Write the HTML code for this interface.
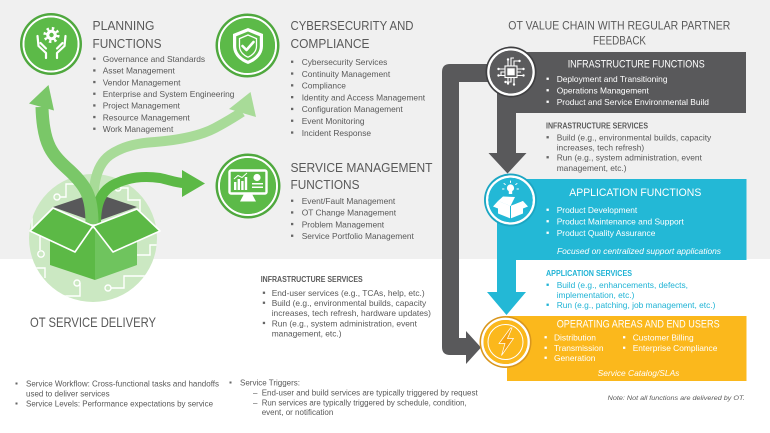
<!DOCTYPE html>
<html>
<head>
<meta charset="utf-8">
<style>
html,body{margin:0;padding:0;background:#fff;}
svg{display:block;}
text{font-family:"Liberation Sans",Arial,sans-serif;}
.h{font-size:13px;fill:#595959;}
.b{font-size:8.4px;fill:#595959;}
.n{font-size:8px;fill:#595959;}
.w{fill:#fff;}
</style>
</head>
<body>
<svg width="770" height="433" viewBox="0 0 770 433" xmlns="http://www.w3.org/2000/svg">
<defs>
<clipPath id="cc"><circle cx="93" cy="238" r="64"/></clipPath>
</defs>
<rect width="770" height="433" fill="#fff"/>
<rect width="770" height="259" fill="#f0f0f0"/>

<!-- ===== OT Service Delivery box illustration ===== -->
<circle cx="93" cy="238" r="64" fill="#cbe8c2"/>
<g clip-path="url(#cc)" stroke="#fff" stroke-width="1.4" fill="none">
  <path d="M60,197 L66,197 L66,184 L80,184"/><circle cx="57" cy="197" r="3"/>
  <path d="M121,188 L128,188 L128,200 L140,200 L140,215"/><circle cx="118" cy="188" r="3"/>
  <path d="M40,250 L40,232 L32,232 L32,215"/><circle cx="41" cy="254" r="3.2"/>
  <path d="M80,283 L80,296 L62,296"/><circle cx="77" cy="283" r="3"/>
  <path d="M111,288 L124,288 L124,276 L150,276"/><circle cx="108" cy="288" r="3"/>
  <path d="M135,255 L150,255 L150,245 L160,245"/>
  <path d="M45,278 L45,268 L30,268"/>
  <path d="M140,298 L140,290 L160,290"/>
</g>
<!-- faces -->
<polygon points="50,237 95,228 95,280 50,265" fill="#5cb946"/>
<polygon points="95,228 137,237 137,265 95,280" fill="#6fc45e"/>
<!-- opening -->
<polygon points="53,207 95,193 137,207 95,222" fill="#58585a"/>

<!-- green arrows -->
<path d="M93,224 C93,195 92,168 110,155 C125,145 140,143 155,142 C180,140 200,136 215,128 C228,121 236,116 242,112" stroke="#a8db98" stroke-width="10" fill="none"/>
<polygon points="229,109 250.5,92 256,117" fill="#a8db98"/>
<path d="M96,224 C96,205 100,190 117,183 C130,177 145,176 160,178 C170,180 176,183 184,183" stroke="#5cb946" stroke-width="10" fill="none"/>
<polygon points="182,170 205,183.5 182,197" fill="#5cb946"/>
<path d="M92,224 C92,196 86,186 70,171 C52,155 43,145 42,107" stroke="#7ac768" stroke-width="13" fill="none"/>
<polygon points="29,103.5 48.5,85 54,110.5" fill="#7ac768"/>

<!-- flaps -->
<polygon points="30,231 53,208 93,226 75,252" fill="#5cb946" stroke="#fff" stroke-width="1.6" stroke-linejoin="round"/>
<polygon points="93,226 137,209 160,231 113,252" fill="#5cb946" stroke="#fff" stroke-width="1.6" stroke-linejoin="round"/>

<text x="30" y="327" font-size="14" fill="#595959" textLength="126" lengthAdjust="spacingAndGlyphs">OT SERVICE DELIVERY</text>

<!-- ===== Planning ===== -->
<circle cx="51" cy="44" r="31" fill="#4fa83e"/>
<circle cx="51" cy="44" r="27.5" fill="none" stroke="#fff" stroke-width="2"/>
<circle cx="51" cy="44" r="26.4" fill="#5cba48"/>
<g>
  <circle cx="51.5" cy="35" r="6.6" fill="none" stroke="#fff" stroke-width="3" stroke-dasharray="2.4 2.8"/>
  <circle cx="51.5" cy="35" r="5.3" fill="#fff"/>
  <circle cx="51.5" cy="35" r="2.2" fill="#5cba48"/>
  <path d="M37.5,36 L38.5,46 L46,53 L46,58 M40.5,43 L46,48.5" stroke="#fff" stroke-width="2.2" fill="none" stroke-linecap="round" stroke-linejoin="round"/>
  <path d="M65.5,36 L64.5,46 L57,53 L57,58 M62.5,43 L57,48.5" stroke="#fff" stroke-width="2.2" fill="none" stroke-linecap="round" stroke-linejoin="round"/>
</g>
<text x="92.5" y="30" class="h" textLength="62" lengthAdjust="spacingAndGlyphs">PLANNING</text>
<text x="92.5" y="48" class="h" textLength="69" lengthAdjust="spacingAndGlyphs">FUNCTIONS</text>
<g fill="#666">
<rect x="93.2" y="57.6" width="2.3" height="2.3"/><rect x="93.2" y="69.3" width="2.3" height="2.3"/><rect x="93.2" y="80.9" width="2.3" height="2.3"/><rect x="93.2" y="92.6" width="2.3" height="2.3"/><rect x="93.2" y="104.3" width="2.3" height="2.3"/><rect x="93.2" y="115.9" width="2.3" height="2.3"/><rect x="93.2" y="127.6" width="2.3" height="2.3"/>
</g>
<text class="b" x="102.7" y="62">Governance and Standards</text>
<text class="b" x="102.7" y="73.7">Asset Management</text>
<text class="b" x="102.7" y="85.3">Vendor Management</text>
<text class="b" x="102.7" y="97">Enterprise and System Engineering</text>
<text class="b" x="102.7" y="108.7">Project Management</text>
<text class="b" x="102.7" y="120.3">Resource Management</text>
<text class="b" x="102.7" y="132">Work Management</text>

<!-- ===== Cybersecurity ===== -->
<circle cx="247.5" cy="45.5" r="32" fill="#4fa83e"/>
<circle cx="247.5" cy="45.5" r="28.5" fill="none" stroke="#fff" stroke-width="2"/>
<circle cx="247.5" cy="45.5" r="27.4" fill="#5cba48"/>
<path d="M248,28 L263,34 L263,46 C263,55 256,61 248,64 C240,61 233,55 233,46 L233,34 Z" fill="#fff"/>
<path d="M248,31.5 L259.8,36.3 L259.8,46 C259.8,53 254.5,58 248,60.6 C241.5,58 236.2,53 236.2,46 L236.2,36.3 Z" fill="#5cba48"/>
<path d="M248,35 L256.5,38.6 L256.5,46 C256.5,51.5 252.5,55.3 248,57.2 C243.5,55.3 239.5,51.5 239.5,46 L239.5,38.6 Z" fill="none" stroke="#fff" stroke-width="1.3"/>
<path d="M242.5,46 L246.5,50 L253.5,42" stroke="#fff" stroke-width="2.6" fill="none" stroke-linecap="round" stroke-linejoin="round"/>
<text x="290.5" y="30" class="h" textLength="123" lengthAdjust="spacingAndGlyphs">CYBERSECURITY AND</text>
<text x="290.5" y="48" class="h" textLength="79" lengthAdjust="spacingAndGlyphs">COMPLIANCE</text>
<g fill="#666">
<rect x="291" y="60.6" width="2.3" height="2.3"/><rect x="291" y="72.4" width="2.3" height="2.3"/><rect x="291" y="84.2" width="2.3" height="2.3"/><rect x="291" y="96" width="2.3" height="2.3"/><rect x="291" y="107.8" width="2.3" height="2.3"/><rect x="291" y="119.6" width="2.3" height="2.3"/><rect x="291" y="131.4" width="2.3" height="2.3"/>
</g>
<text class="b" x="301.7" y="65">Cybersecurity Services</text>
<text class="b" x="301.7" y="76.8">Continuity Management</text>
<text class="b" x="301.7" y="88.6">Compliance</text>
<text class="b" x="301.7" y="100.4">Identity and Access Management</text>
<text class="b" x="301.7" y="112.2">Configuration Management</text>
<text class="b" x="301.7" y="124">Event Monitoring</text>
<text class="b" x="301.7" y="135.8">Incident Response</text>

<!-- ===== Service Management ===== -->
<circle cx="248" cy="186" r="32.5" fill="#4fa83e"/>
<circle cx="248" cy="186" r="29" fill="none" stroke="#fff" stroke-width="2"/>
<circle cx="248" cy="186" r="27.9" fill="#5cba48"/>
<rect x="229.5" y="170.5" width="37" height="23" rx="1.5" fill="none" stroke="#fff" stroke-width="2.4"/>
<polygon points="244,194 252,194 256,201.5 240,201.5" fill="#fff"/>
<g fill="#fff">
<rect x="234" y="182" width="2.4" height="8"/><rect x="237.6" y="179" width="2.4" height="11"/><rect x="241.2" y="181" width="2.4" height="9"/><rect x="244.8" y="177" width="2.4" height="13"/>
<circle cx="257" cy="177.5" r="3.6"/>
<rect x="252" y="183" width="11" height="1.5"/><rect x="252" y="186.5" width="11" height="1.5"/>
</g>
<path d="M234,179 L238,175.5 L242,177.5 L247,173" stroke="#fff" stroke-width="1" fill="none"/>
<text x="290.5" y="172" class="h" textLength="142" lengthAdjust="spacingAndGlyphs">SERVICE MANAGEMENT</text>
<text x="290.5" y="189" class="h" textLength="69" lengthAdjust="spacingAndGlyphs">FUNCTIONS</text>
<g fill="#666">
<rect x="291" y="199.6" width="2.3" height="2.3"/><rect x="291" y="211.3" width="2.3" height="2.3"/><rect x="291" y="222.9" width="2.3" height="2.3"/><rect x="291" y="234.6" width="2.3" height="2.3"/>
</g>
<text class="b" x="301.7" y="204">Event/Fault Management</text>
<text class="b" x="301.7" y="215.7">OT Change Management</text>
<text class="b" x="301.7" y="227.3">Problem Management</text>
<text class="b" x="301.7" y="239">Service Portfolio Management</text>

<!-- ===== Middle infrastructure services ===== -->
<text x="260.7" y="282" font-size="8" font-weight="bold" fill="#595959" textLength="102" lengthAdjust="spacingAndGlyphs">INFRASTRUCTURE SERVICES</text>
<g fill="#666">
<rect x="262.8" y="291.6" width="2.3" height="2.3"/><rect x="262.8" y="301.6" width="2.3" height="2.3"/><rect x="262.8" y="321.8" width="2.3" height="2.3"/>
</g>
<text class="b" x="271.7" y="296">End-user services (e.g., TCAs, help, etc.)</text>
<text class="b" x="271.7" y="306">Build (e.g., environmental builds, capacity</text>
<text class="b" x="271.7" y="316">increases, tech refresh, hardware updates)</text>
<text class="b" x="271.7" y="326.3">Run (e.g., system administration, event</text>
<text class="b" x="271.7" y="336.7">management, etc.)</text>

<!-- ===== Right value chain ===== -->
<text x="508.3" y="29.3" font-size="12" fill="#595959" textLength="222" lengthAdjust="spacingAndGlyphs">OT VALUE CHAIN WITH REGULAR PARTNER</text>
<text x="593" y="44.3" font-size="12" fill="#595959" textLength="53" lengthAdjust="spacingAndGlyphs">FEEDBACK</text>

<!-- gray L feedback connector -->
<path d="M500,64 L450,64 Q442,64 442,72 L442,347 Q442,355 450,355 L466,355 L466,364 L481,347.5 L466,331 L466,338 L459,338 L459,82 L500,82 Z" fill="#59595b"/>

<!-- infrastructure box -->
<path d="M497,52 L746,52 L746,113 L516,113 L516,153 L526.5,153 L507.5,173.5 L488.5,153 L497,153 Z" fill="#59595b"/>
<!-- application box -->
<path d="M497,179 L746.5,179 L746.5,260 L516,260 L516,292 L526,292 L506.5,315 L487,292 L497,292 Z" fill="#23b8d6"/>
<!-- operating box -->
<rect x="507" y="316" width="239.5" height="65" fill="#fbb81c"/>

<!-- infra circle -->
<circle cx="511" cy="72" r="25.5" fill="#3f3f41"/>
<circle cx="511" cy="72" r="22.6" fill="none" stroke="#fff" stroke-width="2.4"/>
<circle cx="511" cy="72" r="21.4" fill="#5b5b5d"/>
<g stroke="#fff" stroke-width="1.1" fill="none">
  <rect x="505" y="66" width="12" height="11.5"/>
  <path d="M508,66 L508,60 M511,66 L511,58 L514,58 M514,66 L514,61 L519,61"/>
  <path d="M505,69 L499,69 M505,72 L501,72 L501,75 M505,75.5 L499,75.5"/>
  <path d="M517,69 L523,69 M517,72 L521,72 M517,75.5 L523,75.5"/>
  <path d="M508,77.5 L508,83 M511,77.5 L511,82 L506,82 M514,77.5 L514,84"/>
</g>
<rect x="507.3" y="68.3" width="7.4" height="7" fill="#fff"/>
<g fill="#fff">
<circle cx="508" cy="59.5" r="1.2"/><circle cx="519.5" cy="61" r="1.2"/><circle cx="498.5" cy="69" r="1.2"/><circle cx="498.5" cy="75.5" r="1.2"/><circle cx="523.5" cy="69" r="1.2"/><circle cx="523.5" cy="75.5" r="1.2"/><circle cx="508" cy="83.5" r="1.2"/><circle cx="514" cy="84.5" r="1.2"/><circle cx="505.5" cy="82" r="1.2"/>
</g>

<text x="567.7" y="67.7" font-size="10.7" class="w" textLength="137" lengthAdjust="spacingAndGlyphs">INFRASTRUCTURE FUNCTIONS</text>
<g fill="#fff">
<rect x="546.5" y="77.6" width="2.3" height="2.3"/><rect x="546.5" y="89.1" width="2.3" height="2.3"/><rect x="546.5" y="100.6" width="2.3" height="2.3"/>
</g>
<text class="b w" x="556.7" y="82">Deployment and Transitioning</text>
<text class="b w" x="556.7" y="93.5">Operations Management</text>
<text class="b w" x="556.7" y="105">Product and Service Environmental Build</text>

<text x="546" y="128.3" font-size="8" font-weight="bold" fill="#595959" textLength="102" lengthAdjust="spacingAndGlyphs">INFRASTRUCTURE SERVICES</text>
<g fill="#666">
<rect x="546.5" y="136.1" width="2.3" height="2.3"/><rect x="546.5" y="156.1" width="2.3" height="2.3"/>
</g>
<text class="b" x="556.7" y="140.5">Build (e.g., environmental builds, capacity</text>
<text class="b" x="556.7" y="150.5">increases, tech refresh)</text>
<text class="b" x="556.7" y="160.5">Run (e.g., system administration, event</text>
<text class="b" x="556.7" y="171">management, etc.)</text>

<!-- app circle -->
<circle cx="510.5" cy="200" r="26.5" fill="#1ba6c3"/>
<circle cx="510.5" cy="200" r="23.4" fill="none" stroke="#fff" stroke-width="2.4"/>
<circle cx="510.5" cy="200" r="22.2" fill="#23b8d6"/>
<g fill="#fff">
  <polygon points="498,201 510.5,206 523,201 523,213.5 510.5,218.5 498,213.5"/>
  <polygon points="498,201 493,206.5 505.5,211.5 510.5,206"/>
  <polygon points="523,201 528,206.5 515.5,211.5 510.5,206"/>
  <polygon points="498,201 503,196.5 515,197 510.5,206"/>
  <circle cx="510.5" cy="188" r="3.6"/>
  <rect x="508.8" y="191" width="3.4" height="3"/>
</g>
<path d="M510.5,206 L510.5,218.5" stroke="#23b8d6" stroke-width="1"/>
<g stroke="#fff" stroke-width="1" stroke-linecap="round">
  <path d="M510.5,181 L510.5,182.5 M504,183.5 L505.3,184.5 M517,183.5 L515.7,184.5 M502.5,189 L504,189 M518.5,189 L517,189"/>
</g>

<text x="569.3" y="196" font-size="11.2" class="w" textLength="132" lengthAdjust="spacingAndGlyphs">APPLICATION FUNCTIONS</text>
<g fill="#fff">
<rect x="546.5" y="208.6" width="2.3" height="2.3"/><rect x="546.5" y="220.1" width="2.3" height="2.3"/><rect x="546.5" y="231.6" width="2.3" height="2.3"/>
</g>
<text class="b w" x="556.7" y="213">Product Development</text>
<text class="b w" x="556.7" y="224.5">Product Maintenance and Support</text>
<text class="b w" x="556.7" y="236">Product Quality Assurance</text>
<text class="b w" x="557" y="254" font-style="italic" textLength="164" lengthAdjust="spacingAndGlyphs">Focused on centralized support applications</text>

<text x="546" y="276" font-size="8" font-weight="bold" fill="#1fb3d5" textLength="86" lengthAdjust="spacingAndGlyphs">APPLICATION SERVICES</text>
<g fill="#1fb3d5">
<rect x="546.5" y="283.6" width="2.3" height="2.3"/><rect x="546.5" y="303.6" width="2.3" height="2.3"/>
</g>
<text x="556.7" y="288" font-size="8.4" fill="#1fb3d5">Build (e.g., enhancements, defects,</text>
<text x="556.7" y="298" font-size="8.4" fill="#1fb3d5">implementation, etc.)</text>
<text x="556.7" y="308" font-size="8.4" fill="#1fb3d5">Run (e.g., patching, job management, etc.)</text>

<!-- operating circle -->
<circle cx="505.5" cy="342" r="26" fill="#d9961c"/>
<circle cx="505.5" cy="342" r="23.2" fill="none" stroke="#fff" stroke-width="2.4"/>
<circle cx="505.5" cy="342" r="22" fill="#fbb81c"/>
<circle cx="505.5" cy="342" r="17.5" fill="none" stroke="#fff" stroke-width="1"/>
<path d="M510.5,328 L499,343.5 L505,343.5 L501.5,355.5 L513.5,338.5 L507.5,338.5 L512,328 Z" fill="#f5a20f" stroke="#fff" stroke-width="0.7"/>

<text x="556.7" y="327.3" font-size="10.7" class="w" textLength="163" lengthAdjust="spacingAndGlyphs">OPERATING AREAS AND END USERS</text>
<g fill="#fff">
<rect x="544.5" y="336.1" width="2.3" height="2.3"/><rect x="544.5" y="346.6" width="2.3" height="2.3"/><rect x="544.5" y="356.6" width="2.3" height="2.3"/>
<rect x="623" y="336.1" width="2.3" height="2.3"/><rect x="623" y="346.6" width="2.3" height="2.3"/>
</g>
<text class="b w" x="554" y="340.5">Distribution</text>
<text class="b w" x="554" y="351">Transmission</text>
<text class="b w" x="554" y="361">Generation</text>
<text class="b w" x="632.7" y="340.5">Customer Billing</text>
<text class="b w" x="632.7" y="351">Enterprise Compliance</text>
<text class="b w" x="597.7" y="376" font-style="italic" textLength="81.7" lengthAdjust="spacingAndGlyphs">Service Catalog/SLAs</text>

<text x="607.7" y="400" font-size="6.8" font-style="italic" fill="#595959" textLength="137" lengthAdjust="spacingAndGlyphs">Note: Not all functions are delivered by OT.</text>

<!-- ===== Bottom notes ===== -->
<g fill="#666">
<rect x="15.5" y="382.5" width="2" height="2"/><rect x="15.5" y="402.5" width="2" height="2"/><rect x="229.5" y="381.5" width="2" height="2"/>
</g>
<text class="n" x="26" y="386.5" textLength="193" lengthAdjust="spacingAndGlyphs">Service Workflow: Cross-functional tasks and handoffs</text>
<text class="n" x="26" y="396.5">used to deliver services</text>
<text class="n" x="26" y="406.5" textLength="187" lengthAdjust="spacingAndGlyphs">Service Levels: Performance expectations by service</text>
<text class="n" x="240" y="385.5">Service Triggers:</text>
<text class="n" x="253" y="395.5">–</text>
<text class="n" x="261.7" y="395.5" textLength="216" lengthAdjust="spacingAndGlyphs">End-user and build services are typically triggered by request</text>
<text class="n" x="253" y="405.5">–</text>
<text class="n" x="261.7" y="405.5" textLength="205" lengthAdjust="spacingAndGlyphs">Run services are typically triggered by schedule, condition,</text>
<text class="n" x="261.7" y="415">event, or notification</text>
</svg>
</body>
</html>
